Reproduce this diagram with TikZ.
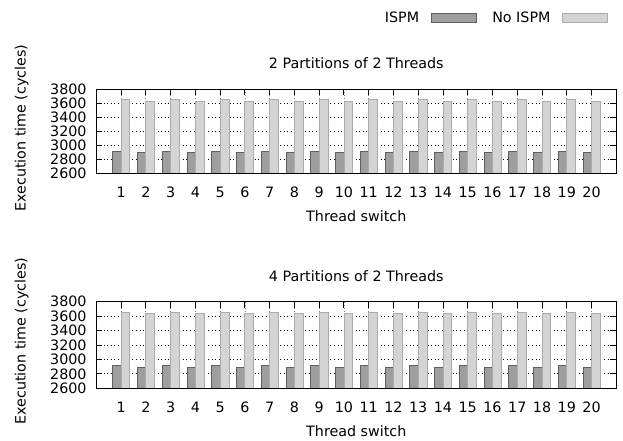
\documentclass[tikz,border=0pt]{standalone}
\usepackage{fontspec}
\setmainfont{DejaVu Sans}
\definecolor{ispmfill}{HTML}{9E9E9E}
\definecolor{ispmdraw}{HTML}{606060}
\definecolor{nofill}{HTML}{D4D4D4}
\definecolor{nodraw}{HTML}{ABABAB}
\begin{document}
\begin{tikzpicture}[x=1pt,y=-1pt]
\tikzset{
 lbl/.style={font=\fontsize{14.3}{17}\selectfont, inner sep=0pt, text=black},
 gridl/.style={line width=0.8pt, black, dash pattern=on 1pt off 2.6pt},
 vgrid/.style={line width=0.7pt, gray, dash pattern=on 1pt off 2pt},
 frameline/.style={line width=1.1pt, black},
 tickline/.style={line width=0.9pt, black},
 ispm/.style={fill=ispmfill, draw=ispmdraw, line width=0.8pt},
 noispm/.style={fill=nofill, draw=nodraw, line width=0.8pt},
}
\useasboundingbox[fill=white] (0,0) rectangle (623,441);
% legend
\node[lbl, anchor=base east] (k1) at (419.3,23) {ISPM};
\draw[ispm] (431,13.5) rectangle (476,22.3);
\node[lbl, anchor=base east] (k2) at (550.7,23) {No ISPM};
\draw[noispm] (562,13.5) rectangle (607,22.3);
\foreach \p/\T/\B/\ttl/\a/\b/\c/\d/\ly in {1/89.3/173.3/2 Partitions of 2 Threads/2918/2900/3661/3633/128,
                                       2/301.7/388.3/4 Partitions of 2 Threads/2919/2888/3651/3637/341}{
  \pgfmathsetmacro\s{(\B-\T)/1200}
  % horizontal grid
  \foreach \v in {2800,3000,3200,3400,3600}{
    \pgfmathsetmacro\yy{\B-(\v-2600)*\s}
    \draw[gridl] (96.3,\yy) -- (616.3,\yy);
  }
  % vertical grid
  \foreach \i in {1,...,20}{
    \pgfmathsetmacro\xx{96.3+\i*24.762}
    \draw[vgrid] (\xx,\T) -- (\xx,\B);
  }
  % bars
  \foreach \i in {1,...,20}{
    \pgfmathsetmacro\xx{96.3+\i*24.762}
    \pgfmathsetmacro\va{mod(\i,2)==1 ? \a : \b}
    \pgfmathsetmacro\vb{mod(\i,2)==1 ? \c : \d}
    \pgfmathsetmacro\ya{\B-(\va-2600)*\s}
    \pgfmathsetmacro\yb{\B-(\vb-2600)*\s}
    \draw[ispm] ({\xx-8.4},\B) rectangle (\xx,\ya);
    \draw[noispm] (\xx,\B) rectangle ({\xx+8.8},\yb);
    \draw[tickline] (\xx,\T) -- (\xx,{\T+6});
    \node[lbl, anchor=base] (x\p-\i) at (\xx,{\B+23.7}) {\i};
  }
  % y ticks and labels
  \foreach \v in {2600,2800,...,3800}{
    \pgfmathsetmacro\yy{\B-(\v-2600)*\s}
    \draw[tickline] (96.3,\yy) -- (102.3,\yy);
    \draw[tickline] (616.3,\yy) -- (610.3,\yy);
    \node[lbl, anchor=base east] (y\p-\v) at (86.8,{\yy+5.2}) {\v};
  }
  \draw[frameline] (96.3,\T) rectangle (616.3,\B);
  \node[lbl, anchor=base] (t\p) at (356.3,{\T-20.6}) {\ttl};
  \node[lbl, anchor=base] (xt\p) at (356.3,{\B+48.4}) {Thread switch};
  \node[lbl, anchor=base, rotate=90] (yt\p) at (25.5,\ly) {Execution time (cycles)};
}
\end{tikzpicture}
\end{document}
